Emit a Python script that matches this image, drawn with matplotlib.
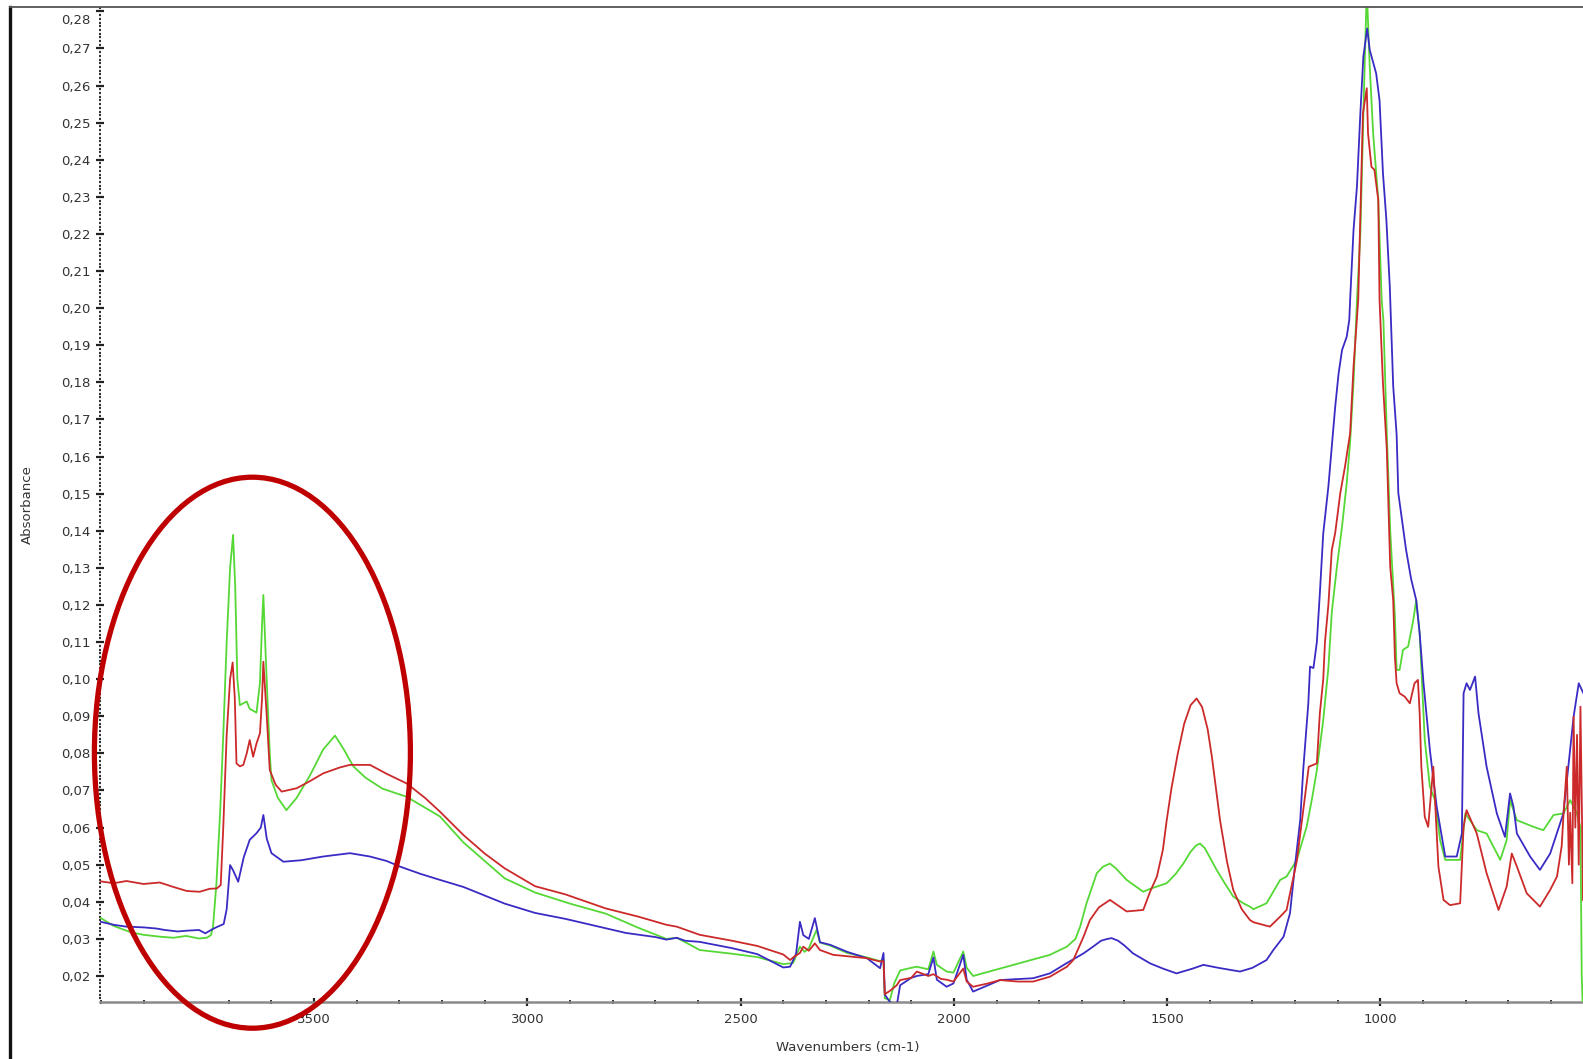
import matplotlib
matplotlib.use("Agg")
import matplotlib.pyplot as plt
from matplotlib.patches import Ellipse
from matplotlib.lines import Line2D
from matplotlib.ticker import MultipleLocator, FixedLocator, FuncFormatter
import matplotlib.transforms as mtransforms

# ---------------- data ----------------
green_wn = [4000, 3970, 3930, 3900, 3862, 3830, 3800, 3770, 3752, 3742, 3737, 3729, 3720, 3713,
            3705, 3697, 3690, 3685, 3680, 3674, 3666, 3658, 3651, 3643, 3635, 3627, 3622, 3619,
            3613, 3604, 3600, 3585, 3565, 3541, 3510, 3479, 3451, 3430, 3408, 3380, 3340, 3283,
            3205, 3150, 3053, 2982, 2900, 2816, 2740, 2674, 2650, 2620, 2596, 2520, 2461, 2400,
            2377, 2361, 2350, 2340, 2322, 2314, 2290, 2250, 2204, 2173, 2165, 2162, 2150, 2140,
            2126, 2100, 2087, 2060, 2048, 2040, 2017, 2001, 1978, 1970, 1955, 1892, 1814, 1775,
            1735, 1715, 1704, 1689, 1665, 1650, 1634, 1620, 1595, 1556, 1540, 1501, 1480, 1462,
            1445, 1432, 1423, 1412, 1400, 1384, 1365, 1345, 1320,
            1306, 1298, 1267, 1235, 1220, 1196, 1173, 1160, 1149, 1134, 1122, 1114, 1102, 1090,
            1079, 1071, 1063, 1055, 1047, 1041, 1037, 1032, 1025, 1017, 1005, 997, 993, 985,
            977, 966, 962, 955, 947, 935, 923, 916, 908, 896, 884, 872, 860, 848, 813, 801,
            774, 751, 719, 704, 696, 680, 641, 618, 594, 571, 555, 539, 531, 528, 525]
green_abs = [0.0356, 0.0335, 0.0318, 0.0311, 0.0306, 0.0303, 0.0308, 0.0301, 0.0303, 0.0310, 0.0333,
             0.0450, 0.0650, 0.0850, 0.1100, 0.1300, 0.1389, 0.1250, 0.1000, 0.0930, 0.0935, 0.0940,
             0.0920, 0.0915, 0.0910, 0.0990, 0.1150, 0.1227, 0.1050, 0.0800, 0.0728, 0.0680, 0.0647,
             0.0680, 0.0740, 0.0810, 0.0848, 0.0810, 0.0765, 0.0735, 0.0705, 0.0683, 0.0630, 0.0560,
             0.0463, 0.0425, 0.0395, 0.0368, 0.0330, 0.0300, 0.0303, 0.0285, 0.0270, 0.0260, 0.0251,
             0.0232, 0.0235, 0.0279, 0.0265, 0.0275, 0.0324, 0.0290, 0.0282, 0.0262, 0.0250, 0.0240,
             0.0245, 0.0140, 0.0135, 0.0180, 0.0215, 0.0222, 0.0225, 0.0218, 0.0266, 0.0230, 0.0212,
             0.0209, 0.0266, 0.0222, 0.0200, 0.0220, 0.0245, 0.0257, 0.0279, 0.0300, 0.0333, 0.0396,
             0.0477, 0.0495, 0.0503, 0.0490, 0.0459, 0.0427, 0.0435, 0.0450, 0.0475, 0.0503,
             0.0535, 0.0552, 0.0557, 0.0545, 0.0520, 0.0486, 0.0450, 0.0414, 0.0395,
             0.0387, 0.0380, 0.0396, 0.0459, 0.0468, 0.0513, 0.0602, 0.0680, 0.0755, 0.0890, 0.1030,
             0.1180, 0.1303, 0.1411, 0.1528, 0.1640, 0.1800, 0.2022, 0.2202, 0.2471, 0.2651, 0.2860,
             0.2651, 0.2471, 0.2292, 0.2022, 0.1968, 0.1663, 0.1400, 0.1169, 0.1025, 0.1025, 0.1079,
             0.1088, 0.1159, 0.1213, 0.1124, 0.0836, 0.0710, 0.0674, 0.0566, 0.0513, 0.0513, 0.0638,
             0.0593, 0.0584, 0.0513, 0.0566, 0.0674, 0.0620, 0.0602, 0.0593, 0.0634, 0.0638, 0.0674,
             0.0638, 0.0600, 0.0200, 0.0100]

red_wn = [4000, 3970, 3940, 3900, 3862, 3830, 3798, 3768, 3745, 3728, 3719, 3713, 3705, 3697,
          3691, 3686, 3682, 3674, 3666, 3658, 3651, 3643, 3635, 3627, 3622, 3619, 3611, 3604,
          3590, 3576, 3541, 3510, 3479, 3440, 3416, 3369, 3330, 3283, 3240, 3205, 3150, 3100,
          3053, 2982, 2911, 2816, 2740, 2674, 2650, 2596, 2520, 2461, 2400, 2384, 2377, 2361,
          2353, 2340, 2326, 2314, 2283, 2240, 2204, 2173, 2165, 2162, 2150, 2134, 2126, 2100,
          2087, 2060, 2048, 2030, 2017, 2001, 1978, 1970, 1955, 1920, 1892, 1850, 1814, 1775,
          1735, 1720, 1696, 1681, 1660, 1634, 1595, 1556, 1540, 1524, 1510, 1501, 1490, 1475,
          1460, 1445, 1431, 1418, 1405, 1395, 1385, 1376, 1360, 1345, 1325,
          1306, 1298, 1259, 1235, 1220, 1196, 1168, 1149, 1142, 1134,
          1130, 1122, 1114, 1106, 1094, 1083, 1071, 1063, 1052, 1044, 1041, 1032, 1029, 1021,
          1014, 1005, 1002, 994, 985, 977, 970, 966, 962, 955, 943, 931, 920, 912, 908, 904,
          896, 888, 876, 872, 864, 852, 837, 813, 805, 798, 774, 751, 723, 704, 692, 680, 657,
          626, 602, 586, 575, 571, 563, 558, 555, 550, 547, 543, 539, 535, 531, 527, 525]
red_abs = [0.0455, 0.0450, 0.0456, 0.0448, 0.0452, 0.0440, 0.0429, 0.0427, 0.0435, 0.0436, 0.0445,
           0.0600, 0.0850, 0.1000, 0.1045, 0.0950, 0.0773, 0.0765, 0.0769, 0.0800, 0.0836, 0.0791,
           0.0827, 0.0854, 0.0950, 0.1047, 0.0900, 0.0755, 0.0715, 0.0697, 0.0706, 0.0725, 0.0746,
           0.0762, 0.0769, 0.0769, 0.0745, 0.0719, 0.0680, 0.0643, 0.0580, 0.0530, 0.0490, 0.0442,
           0.0420, 0.0382, 0.0360, 0.0338, 0.0333, 0.0311, 0.0295, 0.0281, 0.0258, 0.0243, 0.0250,
           0.0262, 0.0279, 0.0268, 0.0288, 0.0270, 0.0257, 0.0252, 0.0248, 0.0239, 0.0240, 0.0151,
           0.0160, 0.0175, 0.0189, 0.0195, 0.0212, 0.0200, 0.0205, 0.0192, 0.0190, 0.0185, 0.0220,
           0.0185, 0.0171, 0.0180, 0.0189, 0.0185, 0.0185, 0.0198, 0.0225, 0.0243, 0.0306, 0.0351,
           0.0385, 0.0405, 0.0374, 0.0378, 0.0427, 0.0468, 0.0540, 0.0620, 0.0705, 0.0800,
           0.0880, 0.0930, 0.0948, 0.0925, 0.0865, 0.0790, 0.0700, 0.0620, 0.0510, 0.0432, 0.0380,
           0.0351, 0.0345, 0.0333, 0.0360, 0.0378, 0.0510, 0.0764, 0.0773, 0.0908, 0.1000,
           0.1100, 0.1200, 0.1348, 0.1394, 0.1502, 0.1573, 0.1663, 0.1842, 0.2022, 0.2381, 0.2525,
           0.2593, 0.2471, 0.2381, 0.2373, 0.2292, 0.2022, 0.1797, 0.1620, 0.1303, 0.1213, 0.1060,
           0.0989, 0.0962, 0.0953, 0.0935, 0.0989, 0.0998, 0.0908, 0.0764, 0.0629, 0.0602, 0.0764,
           0.0674, 0.0495, 0.0405, 0.0391, 0.0396, 0.0602, 0.0647, 0.0584, 0.0477, 0.0378, 0.0441,
           0.0530, 0.0495, 0.0423, 0.0387, 0.0432, 0.0468, 0.0550, 0.0629, 0.0764, 0.0500, 0.0640,
           0.0450, 0.0899, 0.0600, 0.0850, 0.0500, 0.0926, 0.0600, 0.0405]

blue_wn = [4000, 3970, 3940, 3900, 3870, 3850, 3820, 3800, 3770, 3755, 3740, 3728, 3712, 3705,
           3697, 3690, 3678, 3665, 3651, 3635, 3625, 3619, 3611, 3600, 3572, 3530, 3479, 3416,
           3369, 3330, 3299, 3250, 3205, 3150, 3053, 2982, 2911, 2840, 2769, 2700, 2674, 2650,
           2630, 2596, 2520, 2461, 2400, 2384, 2370, 2361, 2353, 2340, 2326, 2314, 2290, 2250,
           2204, 2173, 2165, 2162, 2150, 2134, 2126, 2100, 2087, 2060, 2048, 2040, 2017, 2001,
           1978, 1970, 1955, 1920, 1892, 1814, 1775, 1735, 1696, 1675, 1655, 1640, 1630, 1615,
           1600, 1580, 1540, 1510,
           1478, 1440, 1415, 1380, 1329, 1300, 1267, 1251, 1227, 1212, 1200, 1188, 1181, 1169,
           1165, 1157, 1149, 1142, 1134, 1122, 1114, 1106, 1098, 1090, 1079, 1073, 1071, 1063,
           1055, 1047, 1040, 1031, 1025, 1010, 1002, 994, 986, 978, 970, 962, 958, 940, 928,
           916, 908, 899, 884, 868, 848, 821, 809, 805, 798, 790, 778, 770, 751, 727, 708, 696,
           688, 680, 649, 626, 602, 571, 547, 535, 524]
blue_abs = [0.0346, 0.0338, 0.0333, 0.0331, 0.0328, 0.0324, 0.0320, 0.0322, 0.0324, 0.0315, 0.0325,
            0.0332, 0.0340, 0.0380, 0.0499, 0.0485, 0.0454, 0.0520, 0.0567, 0.0585, 0.0600, 0.0634,
            0.0570, 0.0531, 0.0508, 0.0512, 0.0522, 0.0531, 0.0522, 0.0510, 0.0495, 0.0475, 0.0459,
            0.0440, 0.0395, 0.0370, 0.0354, 0.0335, 0.0316, 0.0305, 0.0298, 0.0303, 0.0295, 0.0292,
            0.0275, 0.0259, 0.0223, 0.0225, 0.0260, 0.0346, 0.0310, 0.0300, 0.0356, 0.0291, 0.0284,
            0.0265, 0.0248, 0.0221, 0.0262, 0.0150, 0.0130, 0.0120, 0.0175, 0.0195, 0.0200, 0.0205,
            0.0250, 0.0190, 0.0171, 0.0180, 0.0257, 0.0190, 0.0158, 0.0175, 0.0189, 0.0194, 0.0207,
            0.0235, 0.0261, 0.0278, 0.0295, 0.0300, 0.0302, 0.0295, 0.0282, 0.0261, 0.0234, 0.0220,
            0.0207, 0.0220, 0.0230, 0.0222,
            0.0212, 0.0222, 0.0243, 0.0270, 0.0306, 0.0369, 0.0500, 0.0620, 0.0755, 0.0935, 0.1034,
            0.1030, 0.1100, 0.1231, 0.1393, 0.1519, 0.1627, 0.1734, 0.1824, 0.1887, 0.1923, 0.1968,
            0.2022, 0.2211, 0.2328, 0.2525, 0.2678, 0.2754, 0.2696, 0.2633, 0.2560, 0.2364, 0.2238,
            0.2058, 0.1790, 0.1660, 0.1502, 0.1350, 0.1270, 0.1213, 0.1124, 0.0990, 0.0809, 0.0656,
            0.0522, 0.0522, 0.0584, 0.0962, 0.0989, 0.0971, 0.1007, 0.0908, 0.0764, 0.0638, 0.0575,
            0.0692, 0.0656, 0.0584, 0.0522, 0.0486, 0.0530, 0.0638, 0.0899, 0.0989, 0.0962]

y_ticks = [0.02, 0.03, 0.04, 0.05, 0.06, 0.07, 0.08, 0.09, 0.10, 0.11, 0.12, 0.13, 0.14,
           0.15, 0.16, 0.17, 0.18, 0.19, 0.20, 0.21, 0.22, 0.23, 0.24, 0.25, 0.26, 0.27, 0.28]
x_ticks = [3500, 3000, 2500, 2000, 1500, 1000]
x_label = "Wavenumbers (cm-1)"
y_label = "Absorbance"

# ---------------- figure ----------------
W, H = 1583, 1059
fig = plt.figure(figsize=(W / 100, H / 100), dpi=100, facecolor="white")
ax = fig.add_axes([100 / W, 57.3 / H, 1483 / W, (1001.7 - 7.3) / H])
ax.set_facecolor("white")

ax.plot(green_wn, green_abs, color="#55d835", lw=1.3, zorder=3)
ax.plot(blue_wn, blue_abs, color="#3a2bc4", lw=1.3, zorder=4)
ax.plot(red_wn, red_abs, color="#cc2a2a", lw=1.3, zorder=5)

ax.set_xlim(4002, 525)
ax.set_ylim(0.01307, 0.2811)

# spines
for s in ("top", "right", "left"):
    ax.spines[s].set_visible(False)
ax.spines["bottom"].set_color("#8a8a8a")
ax.spines["bottom"].set_linewidth(1.8)

# ticks
ax.yaxis.set_major_locator(FixedLocator(y_ticks))
ax.yaxis.set_minor_locator(MultipleLocator(0.001))
ax.yaxis.set_major_formatter(FuncFormatter(lambda v, p: f"{v:.2f}".replace(".", ",")))
ax.xaxis.set_major_locator(FixedLocator(x_ticks))
ax.xaxis.set_minor_locator(MultipleLocator(100))
ax.xaxis.set_major_formatter(FuncFormatter(lambda v, p: f"{v:.0f}"))

ax.tick_params(axis="y", which="major", direction="inout", length=6, width=1.6,
               color="#222222", labelsize=9.5, labelcolor="#333333", pad=4)
ax.tick_params(axis="y", which="minor", direction="inout", length=2, width=1.6, color="#333333")
ax.tick_params(axis="x", which="major", direction="inout", length=6, width=1.6,
               color="#222222", labelsize=9.5, labelcolor="#333333", pad=5)
ax.tick_params(axis="x", which="minor", direction="inout", length=3, width=1.4, color="#333333")

# shift the top (0,28) label slightly down as in the reference
fig.canvas.draw()
labels = ax.yaxis.get_majorticklabels()
if labels:
    top = labels[-1]
    top.set_transform(top.get_transform() +
                      mtransforms.ScaledTranslation(0, -8 / 100, fig.dpi_scale_trans))

# axis labels
fig.text(848 / W, 1 - 1047 / H, x_label, ha="center", va="center",
         fontsize=9.5, color="#333333")
fig.text(27 / W, 1 - 505 / H, y_label, ha="center", va="center", rotation=90,
         fontsize=9.5, color="#333333")

# frame lines of the window
fig.add_artist(Line2D([10 / W, 10 / W], [0, 1 - 7 / H], transform=fig.transFigure,
                      color="#111111", lw=2.4))
fig.add_artist(Line2D([10 / W, 1], [1 - 7.3 / H, 1 - 7.3 / H], transform=fig.transFigure,
                      color="#555555", lw=1.3))

# red annotation ellipse
fig.add_artist(Ellipse((252.4 / W, 1 - 752.7 / H), 316 / W, 551 / H,
                       transform=fig.transFigure, fill=False,
                       edgecolor="#bf0000", lw=3.8, zorder=10))

fig.savefig("out.png", dpi=100, facecolor="white")
